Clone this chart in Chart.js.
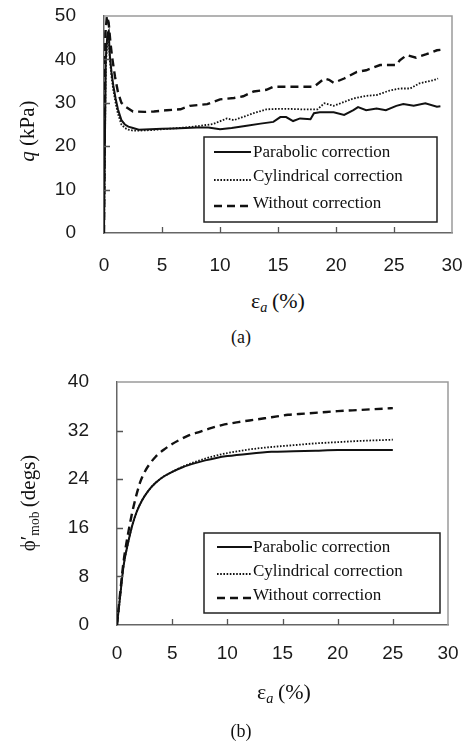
<!DOCTYPE html>
<html><head><meta charset="utf-8">
<script src="https://cdn.jsdelivr.net/npm/chart.js@4.4.0/dist/chart.umd.min.js"></script>
<style>
html,body{margin:0;padding:0;background:#fff;}
body{width:462px;height:745px;position:relative;overflow:hidden;}
canvas{position:absolute;left:0;}
.t{position:absolute;font-family:"Liberation Serif","Times New Roman",serif;color:#111;white-space:nowrap;transform:translate(-50%,-50%);line-height:1;}
.rot{transform:translate(-50%,-50%) rotate(-90deg);}
.sub{font-size:0.65em;position:relative;top:0.3em;}
</style></head><body>
<canvas id="ca" width="462" height="280" style="top:0"></canvas>
<canvas id="cb" width="462" height="320" style="top:360px"></canvas>
<div class="t rot" style="left:27px;top:131px;font-size:21px"><i>q</i> (kPa)</div>
<div class="t" style="left:278px;top:301px;font-size:22px">ε<span class="sub"><i>a</i></span>&thinsp;(%)</div>
<div class="t" style="left:241px;top:337px;font-size:18px">(a)</div>
<div class="t rot" style="left:28px;top:503px;font-size:21px">ϕ′<span class="sub">mob</span>&thinsp;(degs)</div>
<div class="t" style="left:284px;top:692px;font-size:22px">ε<span class="sub"><i>a</i></span>&thinsp;(%)</div>
<div class="t" style="left:241px;top:731px;font-size:18px">(b)</div>
<script>
// ---------- data ----------
const seriesNames = ['Parabolic correction', 'Cylindrical correction', 'Without correction'];

const xTicksA = [0, 5, 10, 15, 20, 25, 30];
const yTicksA = [0, 10, 20, 30, 40, 50];
const xTicksB = [0, 5, 10, 15, 20, 25, 30];
const yTicksB = [0, 8, 16, 24, 32, 40];

// (a) deviator stress q (kPa) vs axial strain (%)
const strainA_par = [0,0.15,0.3,0.4,0.5,0.65,0.8,1.0,1.2,1.5,1.8,2.1,2.5,3,4,5,6,7,8,9,10,11,12.3,13.5,14.6,15.2,15.7,16.3,16.9,17.8,18.1,18.6,19.8,20.7,21.5,21.9,22.6,23.5,24.3,25.2,25.8,26.7,27.7,28.7,29];
const qA_par      = [0,40,46,46.5,41,37,34,31,28.5,26,25,24.5,24.2,23.8,23.9,24,24.1,24.2,24.3,24.3,23.9,24.2,24.7,25.2,25.6,26.7,26.7,25.8,26.4,26.2,27.6,27.8,27.8,27.2,28.3,29,28.3,28.7,28.3,29.3,29.7,29.3,29.9,29.1,29.2];

const strainA_cyl = [0,0.15,0.3,0.4,0.5,0.65,0.8,1.0,1.2,1.5,1.8,2.1,2.5,3,4,5,6,7,8,9.4,10.6,11.2,12.9,14,15,16,17,18.4,19,19.8,20.4,21.5,22.6,23.5,24.6,25.5,26.4,27.2,28.4,28.8];
const qA_cyl      = [0,38,45.5,46,40,36,33,30,27.5,25,24.2,23.8,23.6,23.6,23.7,23.9,24.1,24.3,24.6,25.1,26.4,26,27.6,28.5,28.6,28.6,28.5,28.5,29.9,29.3,29.9,31,31.6,31.8,32.8,33.3,33.3,34.5,35.2,35.6];

const strainA_none = [0,0.12,0.25,0.4,0.55,0.7,0.95,1.2,1.5,1.9,2.5,3.5,4.3,5.4,6.6,7.4,8.9,10,11.2,12,12.9,14,14.6,16,17,18.1,19,19.4,19.8,20.7,21.8,22.6,23.8,25.2,25.5,26.1,26.9,27.8,28.7,29];
const qA_none      = [0,46,50,48.5,44,40.5,36,32.5,30,29,28,27.9,28,28.3,28.5,29.3,29.7,30.8,31.1,31.5,32.6,33,33.7,33.7,33.7,33.7,35.6,35.3,34.6,35.6,37.1,37.5,38.7,38.7,39.8,41,40.4,41.2,42.1,42.2];

const strainA_mark = [28.6, 28.6];
const qA_mark      = [12.7, 10.5];

// (b) mobilised friction angle (degs) vs axial strain (%)
const strainB_par = [0,0.3,0.6,1.0,1.4,1.8,2.3,2.8,3.5,4.2,5,6,7,8,9,10,12,14,16,18,20,22,25];
const phiB_par    = [0,5,9.8,13.5,16.5,18.7,20.6,22,23.4,24.4,25.2,26,26.6,27.1,27.5,27.8,28.2,28.5,28.6,28.7,28.8,28.8,28.8];
const strainB_cyl = [0,0.3,0.6,1.0,1.4,1.8,2.3,2.8,3.5,4.2,5,6,7,8,9,10,12,14,16,18,20,22,25];
const phiB_cyl    = [0,5,9.8,13.5,16.5,18.7,20.6,22,23.4,24.4,25.2,26.1,26.8,27.4,27.9,28.3,28.9,29.3,29.6,29.9,30.1,30.3,30.5];
const strainB_none = [0,0.3,0.6,1.0,1.5,2.1,2.6,3,3.5,4.2,5,5.7,6.5,7.5,8.5,9.5,11,12.5,14,15.5,17,18.5,20,22,25];
const phiB_none    = [0,5.5,10.5,15,19.5,23.5,25.5,26.6,27.7,28.8,29.8,30.5,31.2,31.8,32.4,32.9,33.4,33.8,34.2,34.6,34.8,35,35.2,35.4,35.7];

// ---------- helpers ----------
const pts = (xs, ys) => xs.map((x, i) => ({x, y: ys[i]}));
const STY = [
  {borderWidth: 2, borderDash: []},
  {borderWidth: 1.8, borderDash: [1.6, 1.6]},
  {borderWidth: 2.4, borderDash: [8, 5]}
];
function ds(data, k, extra) {
  return Object.assign({data, showLine: true, pointRadius: 0, borderColor: '#111', backgroundColor: '#111',
    fill: false, tension: 0, borderWidth: STY[k].borderWidth, borderDash: STY[k].borderDash}, extra || {});
}

const decor = {
  id: 'decor',
  afterDatasetsDraw(chart, args, o) {
    const ctx = chart.ctx, a = chart.chartArea;
    const xs = chart.scales.x, ys = chart.scales.y;
    ctx.save();
    ctx.setLineDash([]);
    // frame top/right
    ctx.strokeStyle = '#9a9a9a'; ctx.lineWidth = 1.5;
    ctx.beginPath();
    ctx.moveTo(a.left, a.top); ctx.lineTo(a.right, a.top); ctx.lineTo(a.right, a.bottom);
    ctx.stroke();
    // inner ticks
    ctx.strokeStyle = '#555'; ctx.lineWidth = 1.3;
    ctx.beginPath();
    xs.ticks.forEach(t => {
      if (t.value <= xs.min || t.value >= xs.max) return;
      const px = Math.round(xs.getPixelForValue(t.value)) + 0.5;
      ctx.moveTo(px, a.bottom); ctx.lineTo(px, a.bottom - o.tick);
    });
    ys.ticks.forEach(t => {
      if (t.value <= ys.min || t.value >= ys.max) return;
      const py = Math.round(ys.getPixelForValue(t.value)) + 0.5;
      ctx.moveTo(a.left, py); ctx.lineTo(a.left + o.tick, py);
    });
    ctx.stroke();
    // legend box
    const L = o.legend;
    ctx.fillStyle = '#fff';
    ctx.fillRect(L.x, L.y, L.w, L.h);
    ctx.strokeStyle = '#222'; ctx.lineWidth = 1.5;
    ctx.strokeRect(L.x, L.y, L.w, L.h);
    ctx.font = L.font; ctx.fillStyle = '#111'; ctx.textBaseline = 'middle'; ctx.textAlign = 'left';
    seriesNames.forEach((name, k) => {
      const y = L.y + L.rows[k];
      ctx.strokeStyle = '#111';
      ctx.lineWidth = STY[k].borderWidth;
      ctx.setLineDash(STY[k].borderDash);
      ctx.beginPath();
      ctx.moveTo(L.s0, y + L.lineOff[k]); ctx.lineTo(L.s1, y + L.lineOff[k]);
      ctx.stroke();
      ctx.setLineDash([]);
      ctx.fillText(name, L.tx, y);
    });
    ctx.restore();
  }
};

function noPad(s) { s.paddingLeft = 0; s.paddingRight = 0; s.paddingTop = 0; s.paddingBottom = 0; }

const tickFont = {family: '"Liberation Sans", Arial, sans-serif', size: 19};

function makeChart(id, datasets, xt, yt, cfg) {
  return new Chart(document.getElementById(id), {
    type: 'scatter',
    data: {datasets},
    plugins: [decor],
    options: {
      responsive: false, animation: false, devicePixelRatio: 1,
      layout: {padding: {top: cfg.padTop, right: cfg.padRight, left: 0, bottom: 0}},
      plugins: {legend: {display: false}, tooltip: {enabled: false}, decor: cfg.decor},
      scales: {
        x: {
          type: 'linear', min: xt[0], max: xt[xt.length - 1],
          afterBuildTicks: s => { s.ticks = xt.map(v => ({value: v})); },
          afterFit: s => { s.height = cfg.xH; noPad(s); },
          grid: {display: false},
          border: {display: true, color: '#666', width: 1.5},
          ticks: {padding: cfg.xPad, color: '#1a1a1a', font: tickFont, maxRotation: 0}
        },
        y: {
          type: 'linear', min: yt[0], max: yt[yt.length - 1],
          afterBuildTicks: s => { s.ticks = yt.map(v => ({value: v})); },
          afterFit: s => { s.width = cfg.yW; noPad(s); },
          grid: {display: false},
          border: {display: true, color: '#666', width: 1.5},
          ticks: {padding: cfg.yPad, color: '#1a1a1a', font: tickFont}
        }
      }
    }
  });
}

makeChart('ca', [
  ds(pts(strainA_par, qA_par), 0),
  ds(pts(strainA_cyl, qA_cyl), 1),
  ds(pts(strainA_none, qA_none), 2),
  ds(pts(strainA_mark, qA_mark), 0, {borderWidth: 2.5})
], xTicksA, yTicksA, {
  padTop: 16, padRight: 10, xH: 47, yW: 104, xPad: 13, yPad: 20,
  decor: {tick: 6, legend: {x: 204, y: 137, w: 233, h: 85, rows: [16, 40, 67], lineOff: [-1, 3, 2],
    s0: 214, s1: 251, tx: 253, font: '17px "Liberation Serif"'}}
});

makeChart('cb', [
  ds(pts(strainB_par, phiB_par), 0, {cubicInterpolationMode: 'monotone'}),
  ds(pts(strainB_cyl, phiB_cyl), 1, {cubicInterpolationMode: 'monotone'}),
  ds(pts(strainB_none, phiB_none), 2, {cubicInterpolationMode: 'monotone'})
], xTicksB, yTicksB, {
  padTop: 22, padRight: 14, xH: 55, yW: 117, xPad: 9, yPad: 20,
  decor: {tick: 6, legend: {x: 204, y: 173, w: 236, h: 80, rows: [15, 39, 63], lineOff: [-1, 2, 2],
    s0: 217, s1: 252, tx: 253, font: '17px "Liberation Serif"'}}
});
</script>
</body></html>
